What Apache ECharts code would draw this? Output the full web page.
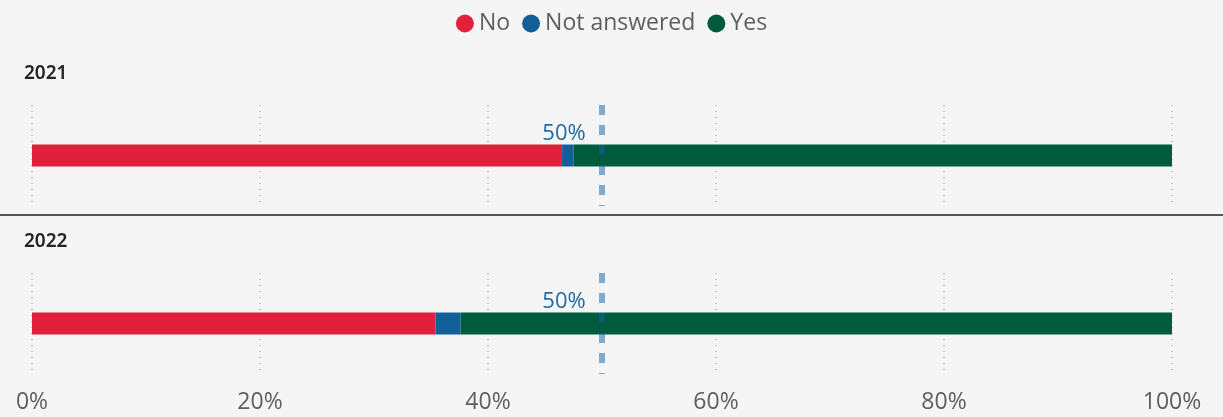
<!DOCTYPE html>
<html>
<head>
<meta charset="utf-8">
<script src="https://cdn.jsdelivr.net/npm/echarts@6/dist/echarts.min.js"></script>
<style>
  html, body { margin: 0; padding: 0; background: #f5f5f5; }
  #chart { width: 1223px; height: 417px; }
</style>
</head>
<body>
<div id="chart"></div>
<script>
// Survey answers per year, as share of respondents (%)
const years = ['2021', '2022'];
const noValues = [46.5, 35.4];
const notAnsweredValues = [1.0, 2.2];
const yesValues = [52.5, 62.4];
const referenceValue = 50;

const seriesNames = ['No', 'Not answered', 'Yes'];
const seriesColors = ['#e1203b', '#11609a', '#005a3c'];
const seriesValues = [noValues, notAnsweredValues, yesValues];

const FONT = "'Segoe UI', 'Open Sans', sans-serif";
const gridTops = [105, 273];
const gridHeight = 101;

const grids = years.map((y, i) => ({
  left: 32, right: 51, top: gridTops[i], height: gridHeight, containLabel: false
}));

const xAxes = years.map((y, i) => ({
  type: 'value', gridIndex: i, min: 0, max: 100, interval: 20,
  axisLine: { show: false }, axisTick: { show: false },
  axisLabel: {
    show: i === years.length - 1, formatter: '{value}%',
    fontFamily: FONT, fontSize: 23, color: '#605e5c', margin: 17
  },
  splitLine: { show: true, lineStyle: { color: '#c2c2c2', width: 2, type: [1, 5] } }
}));

const yAxes = years.map((y, i) => ({
  type: 'category', gridIndex: i, data: [y], show: false
}));

const series = [];
years.forEach((year, i) => {
  seriesNames.forEach((name, s) => {
    const item = {
      name, type: 'bar', stack: 'total-' + year,
      xAxisIndex: i, yAxisIndex: i, barWidth: 22,
      itemStyle: { color: seriesColors[s] },
      data: [seriesValues[s][i]],
      emphasis: { disabled: true }
    };
    if (s === seriesNames.length - 1) {
      item.markLine = {
        silent: true, symbol: 'none', z: 10,
        lineStyle: { color: 'rgba(11,98,164,0.5)', width: 6, type: [10, 10], dashOffset: 9 },
        label: { show: false },
        data: [{ xAxis: referenceValue }]
      };
      item.markPoint = {
        silent: true, symbol: 'circle', symbolSize: 0,
        label: {
          show: true, formatter: referenceValue + '%', position: 'inside',
          offset: [-38, -22], fontFamily: FONT, fontSize: 22, color: '#1f6aa5'
        },
        data: [{ coord: [referenceValue, year] }]
      };
    }
    series.push(item);
  });
});

const chart = echarts.init(document.getElementById('chart'));
chart.setOption({
  backgroundColor: '#f5f5f5',
  animation: false,
  title: years.map((y, i) => ({
    text: y, left: 19, top: i === 0 ? 59 : 227,
    textStyle: { fontFamily: "'Segoe UI', 'Noto Sans', sans-serif", fontSize: 19, fontWeight: 600, color: '#252423' }
  })),
  legend: {
    top: 7, left: 'center', icon: 'circle', itemWidth: 18, itemHeight: 18, itemGap: 12,
    data: seriesNames,
    textStyle: { fontFamily: FONT, fontSize: 23, color: '#605e5c' }
  },
  grid: grids,
  xAxis: xAxes,
  yAxis: yAxes,
  series,
  graphic: [{
    type: 'line', silent: true,
    shape: { x1: 0, y1: 215, x2: 1223, y2: 215 },
    style: { stroke: '#201f1e', lineWidth: 1.5 }
  }]
});
</script>
</body>
</html>
